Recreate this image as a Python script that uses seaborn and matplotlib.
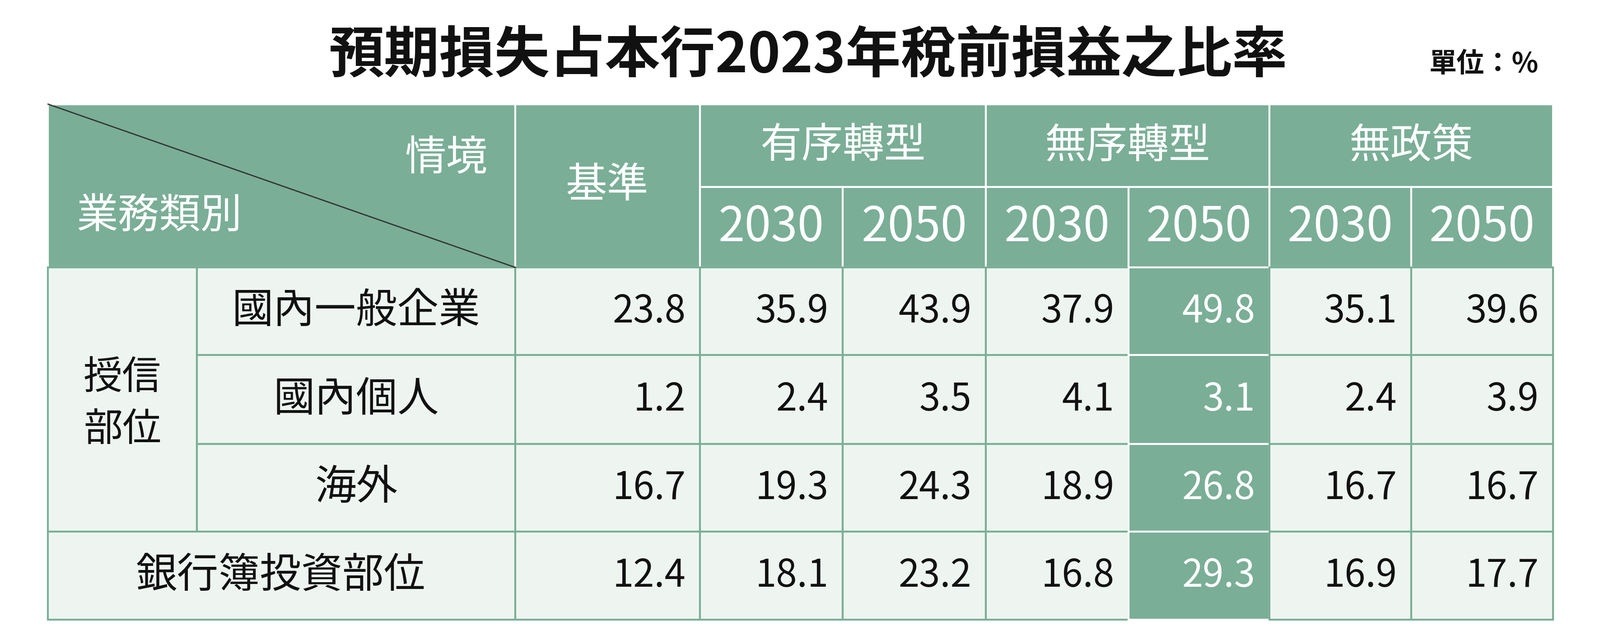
import matplotlib
matplotlib.use("Agg")
import matplotlib.pyplot as plt
from matplotlib.patches import Rectangle
import seaborn as sns

sns.set_theme(style="white")
FONTS = ["Noto Sans CJK TC", "Noto Sans CJK JP", "Noto Sans CJK SC", "Noto Sans CJK KR", "DejaVu Sans"]
plt.rcParams["font.family"] = "sans-serif"
plt.rcParams["font.sans-serif"] = FONTS

title = "預期損失占本行2023年稅前損益之比率"
unit = "單位：%"
scenarios = ["有序轉型", "無序轉型", "無政策"]
years = ["2030", "2050"]
rows = ["國內一般企業", "國內個人", "海外", "銀行簿投資部位"]
group = "授信\n部位"
base = [23.8, 1.2, 16.7, 12.4]
orderly = [[35.9, 43.9], [2.4, 3.5], [19.3, 24.3], [18.1, 23.2]]
disorderly = [[37.9, 49.8], [4.1, 3.1], [18.9, 26.8], [16.8, 29.3]]
nopolicy = [[35.1, 39.6], [2.4, 3.9], [16.7, 16.7], [16.9, 17.7]]

GREEN = "#7aae97"
LIGHT = "#eef5f1"
fig = plt.figure(figsize=(35.43, 14.17), dpi=100)
ax = fig.add_axes([0, 0, 1, 1])
ax.set_xlim(0, 1568); ax.set_ylim(627, 0); ax.axis("off")

colx = [505, 686, 826, 966, 1106, 1244, 1383, 1522]
rowy = [262, 348, 435, 521, 607]
L, HT, HM = 47, 102, 183

def T(*a, **k):
    k.setdefault("fontfamily", FONTS)
    return ax.text(*a, **k)

def rect(x0, y0, x1, y1, fc, ec, lw=3):
    ax.add_patch(Rectangle((x0, y0), x1 - x0, y1 - y0, fc=fc, ec=ec, lw=lw))

# header
rect(L, HT, 505, 262, GREEN, "white")
rect(505, HT, 686, 262, GREEN, "white")
for i, sc in enumerate(scenarios):
    x0, x1 = colx[1 + 2 * i], colx[3 + 2 * i]
    rect(x0, HT, x1, HM, GREEN, "white")
    T((x0 + x1) / 2, 143, sc, ha="center", va="center", color="white", fontsize=66)
    for j in range(2):
        a, b = colx[1 + 2 * i + j], colx[2 + 2 * i + j]
        rect(a, HM, b, 262, GREEN, "white")
        T((a + b) / 2, 223, years[j], ha="center", va="center", color="white", fontsize=76)
T(595, 182, "基準", ha="center", va="center", color="white", fontsize=66)
ax.plot([L, 505], [HT, 262], color="#333333", lw=2)
T(478, 155, "情境", ha="right", va="center", color="white", fontsize=66)
T(75, 212, "業務類別", ha="left", va="center", color="white", fontsize=66)

# body
rect(L, 262, 193, 521, LIGHT, GREEN)
T(120, 396, group, ha="center", va="center", fontsize=62, linespacing=1.4, color="#111111")
for r, name in enumerate(rows):
    y0, y1 = rowy[r], rowy[r + 1]
    x0 = 193 if r < 3 else L
    rect(x0, y0, 505, y1, LIGHT, GREEN)
    T((x0 + 505) / 2 if r < 3 else 275, (y0 + y1) / 2, name, ha="center", va="center",
      fontsize=66, color="#111111")
    vals = [base[r]] + orderly[r] + disorderly[r] + nopolicy[r]
    for c, v in enumerate(vals):
        a, b = colx[c], colx[c + 1]
        hl = (c == 4)
        rect(a, y0, b, y1, GREEN if hl else LIGHT, "white" if hl else GREEN)
        T(b - 14, (y0 + y1) / 2, f"{v:.1f}", ha="right", va="center", fontsize=60,
          color="white" if hl else "#111111")

T(792, 55, title, ha="center", va="center", fontsize=88, fontweight="bold", color="#111111")
T(1508, 63, unit, ha="right", va="center", fontsize=44, fontweight="bold", color="#111111")

fig.savefig("out.png", dpi=100, facecolor="white")
